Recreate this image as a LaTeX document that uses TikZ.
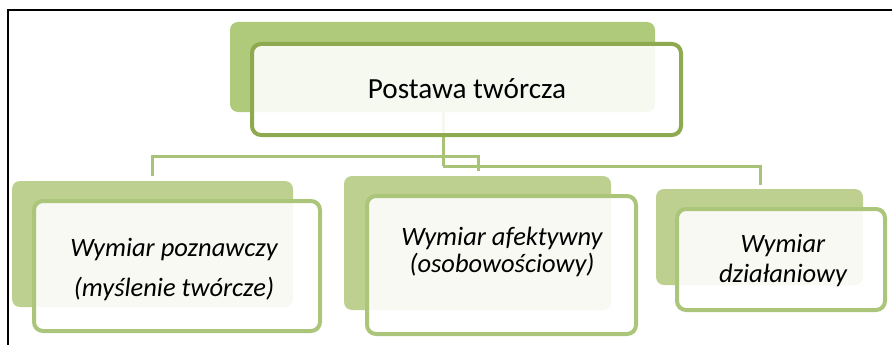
\documentclass[tikz,border=0pt]{standalone}
\usepackage{fontspec}
\setmainfont{Carlito}
\definecolor{topborder}{HTML}{8EA94F}
\definecolor{subborder}{HTML}{ABC57A}
\definecolor{topback}{HTML}{AFCA7B}
\definecolor{subback}{HTML}{BDD08F}
\definecolor{conn}{HTML}{A8C277}
\begin{document}
\begin{tikzpicture}[x=1pt,y=-1pt,
  backbox/.style={rectangle,rounded corners=8pt,inner sep=0pt,fill=#1},
  frontbox/.style={rectangle,rounded corners=9pt,inner sep=0pt,draw=#1,line width=4pt,fill=white,fill opacity=0.89},
  lbl/.style={anchor=base,inner sep=0pt,font=\fontsize{26.5}{30}\selectfont\itshape},
  toplbl/.style={anchor=base,inner sep=0pt,font=\fontsize{29.2}{33}\selectfont},
  connector/.style={draw=conn,line width=3pt}]
\useasboundingbox (0,0) rectangle (892,345);
% frame
\coordinate (fa) at (8,345);
\coordinate (fb) at (8,10);
\coordinate (fc) at (892,10);
\draw[line width=2pt,black] (fa) -- (fb) -- (fc);
% connector points
\coordinate (c0) at (443,112);
\coordinate (c1) at (443,156);
\coordinate (c2) at (443,166);
\coordinate (l1) at (152,156);
\coordinate (l2) at (152,176);
\coordinate (m1) at (478,156);
\coordinate (m2) at (478,171);
\coordinate (r1) at (760,166);
\coordinate (r2) at (760,185);
\draw[connector] (c0) -- (c2);
\draw[connector] (c1) -- (l1) -- (l2);
\draw[connector] (c1) -- (m1) -- (m2);
\draw[connector] (c2) -- (r1) -- (r2);
% top node
\node[backbox=topback,minimum width=425pt,minimum height=90pt] (topB) at (442.5,67) {};
\node[frontbox=topborder,minimum width=429pt,minimum height=91pt] (topF) at (466.5,89.5) {};
\node[toplbl] (topT) at (467,99) {Postawa twórcza};
% left node
\node[backbox=subback,minimum width=281pt,minimum height=126pt] (leftB) at (152.5,244) {};
\node[frontbox=subborder,minimum width=286pt,minimum height=130pt] (leftF) at (177,266) {};
\node[lbl] (leftT1) at (174,256) {Wymiar poznawczy};
\node[lbl] (leftT2) at (174,296) {(myślenie twórcze)};
% middle node
\node[backbox=subback,minimum width=267pt,minimum height=134pt] (midB) at (477.5,243) {};
\node[frontbox=subborder,minimum width=269pt,minimum height=138pt] (midF) at (501.5,265) {};
\node[lbl] (midT1) at (502,245) {Wymiar afektywny};
\node[lbl] (midT2) at (502,272) {(osobowościowy)};
% right node
\node[backbox=subback,minimum width=207pt,minimum height=96pt] (rightB) at (759.5,237) {};
\node[frontbox=subborder,minimum width=208pt,minimum height=101pt] (rightF) at (781,259.5) {};
\node[lbl] (rightT1) at (783,252) {Wymiar};
\node[lbl] (rightT2) at (783,282) {działaniowy};
\end{tikzpicture}
\end{document}
